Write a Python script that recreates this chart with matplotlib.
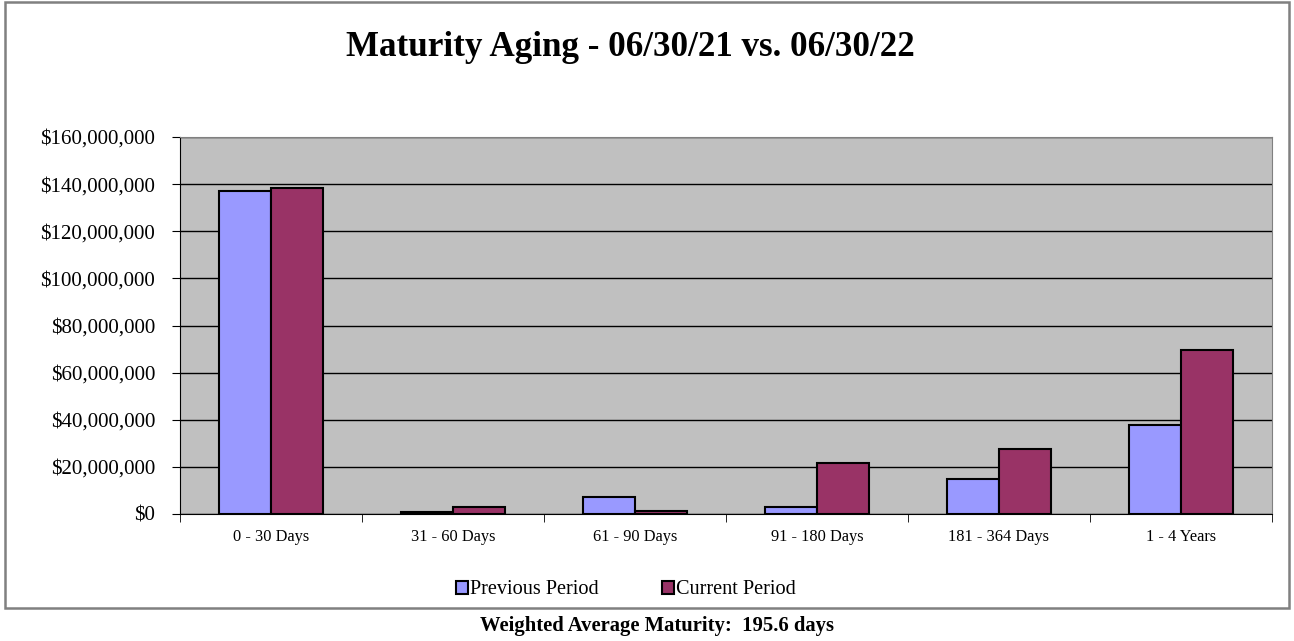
import numpy as np
import matplotlib.pyplot as plt
from matplotlib.patches import Rectangle
from matplotlib.ticker import FuncFormatter

categories = ['0 - 30 Days', '31 - 60 Days', '61 - 90 Days', '91 - 180 Days',
              '181 - 364 Days', '1 - 4 Years']
previous = [137.0e6, 0.8e6, 7.2e6, 3.0e6, 14.9e6, 37.8e6]
current = [138.4e6, 3.0e6, 1.3e6, 21.6e6, 27.6e6, 69.6e6]
series_names = ['Previous Period', 'Current Period']
title = 'Maturity Aging - 06/30/21 vs. 06/30/22'
footnote = 'Weighted Average Maturity:  195.6 days'

plt.rcParams['font.family'] = ['Liberation Serif', 'DejaVu Serif']

fig = plt.figure(figsize=(12.94, 6.41), dpi=100)
W, H = 1294, 641

# outer chart frame
fig.patches.append(Rectangle((5 / W, 1 - 608 / H), 1284 / W, 606 / H,
                             transform=fig.transFigure, fill=False,
                             edgecolor='#808080', linewidth=1.8))

ax = fig.add_axes([180 / W, 1 - 514 / H, 1092 / W, 377 / H])
ax.set_facecolor('#c0c0c0')

x = np.arange(len(categories))
bw = 0.286
ax.bar(x - bw / 2, previous, bw, color='#9999ff', edgecolor='black',
       linewidth=1.5, label=series_names[0], zorder=3)
ax.bar(x + bw / 2, current, bw, color='#993366', edgecolor='black',
       linewidth=1.5, label=series_names[1], zorder=3)

ax.set_xlim(-0.5, len(categories) - 0.5)
ax.set_ylim(0, 160e6)
ax.set_yticks(np.arange(0, 160e6 + 1, 20e6))
ax.yaxis.set_major_formatter(FuncFormatter(lambda v, p: '${:,.0f}'.format(v)))
ax.yaxis.grid(True, color='black', linewidth=1)
ax.set_axisbelow(True)

ax.set_xticks(x)
ax.set_xticklabels(categories, fontsize=11.8)
ax.set_xticks(np.arange(-0.5, len(categories), 1), minor=True)
ax.tick_params(axis='x', which='major', length=0, pad=11)
ax.tick_params(axis='x', which='minor', length=6, direction='out', color='black')
ax.tick_params(axis='y', length=6, direction='out', labelsize=15.1, pad=12)

for s in ['top', 'right']:
    ax.spines[s].set_color('#808080')
ax.spines['left'].set_color('black')
ax.spines['bottom'].set_color('black')

fig.text(630 / W, 1 - 48 / H, title, ha='center', va='center',
         fontsize=25.2, fontweight='bold')

leg = fig.legend(loc='center', bbox_to_anchor=(626 / W, 1 - 590 / H), ncol=2,
                 frameon=False, fontsize=14.6, handlelength=0.6, handleheight=0.6,
                 handletextpad=0.1, columnspacing=3.1)

fig.text(657 / W, 1 - 626 / H, footnote, ha='center', va='center',
         fontsize=14.9, fontweight='bold')

fig.savefig('out.png', dpi=100)
